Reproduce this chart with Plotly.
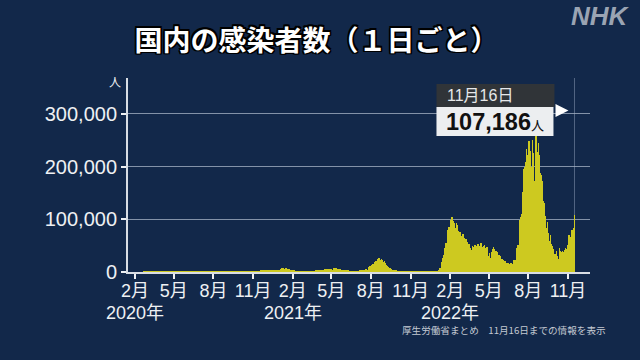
import pandas as pd
import plotly.graph_objects as go

# Daily new cases (persons); 2020-01-16 .. 2022-11-16
cases_2020 = [
    1, 0, 0, 0,
    0, 0, 0, 0, 1, 1, 0,
    1, 2, 3, 2, 2, 1, 0,
    0, 0, 3, 0, 0, 0, 0,
    0, 0, 1, 3, 8, 5, 5,
    6, 5, 3, 6, 10, 10, 12,
    13, 5, 7, 12, 14, 14, 13,
    15, 18, 21, 33, 24, 38, 30,
    26, 59, 52, 53, 62, 42, 33,
    15, 18, 42, 39, 37, 34, 40,
    38, 43, 69, 97, 96, 200, 170,
    90, 230, 250, 240, 320, 360, 360,
    250, 350, 500, 580, 650, 700, 500,
    350, 450, 550, 590, 580, 560, 400,
    350, 380, 380, 430, 450, 200, 200,
    120, 200, 200, 160, 250, 180, 200,
    90, 90, 120, 90, 80, 100, 50,
    60, 50, 50, 60, 40, 30, 20,
    20, 30, 30, 30, 30, 20, 20,
    20, 40, 30, 40, 60, 50, 50,
    30, 40, 50, 40, 40, 40, 50,
    20, 40, 40, 40, 60, 60, 50,
    70, 60, 40, 70, 60, 70, 40,
    40, 50, 60, 80, 110, 100, 110,
    90, 120, 130, 190, 250, 270, 230,
    200, 220, 260, 290, 420, 400, 410,
    250, 330, 460, 600, 590, 540, 510,
    380, 630, 800, 980, 770, 790, 920,
    620, 980, 1260, 1300, 1580, 1540, 1330,
    960, 1240, 1360, 1480, 1600, 1440, 1260,
    900, 800, 1000, 1200, 1370, 1100, 1000,
    600, 900, 1100, 1000, 1000, 900, 800,
    500, 600, 700, 800, 850, 700, 600,
    440, 540, 600, 600, 600, 600, 500,
    300, 400, 500, 600, 600, 500, 400,
    250, 400, 500, 600, 600, 500, 400,
    200, 300, 400, 500, 600, 600, 450,
    300, 500, 600, 600, 600, 500, 400,
    300, 500, 600, 600, 650, 500, 450,
    300, 450, 650, 700, 650, 600, 450,
    300, 500, 600, 650, 700, 550, 500,
    400, 550, 700, 750, 800, 650, 600,
    500, 600, 800, 1000, 1200, 1300, 1000,
    800, 1300, 1500, 1650, 1700, 1700, 1400,
    900, 1700, 2200, 2400, 2400, 2500, 2100,
    1500, 1200, 1900, 2500, 2500, 2700, 2000,
    1400, 2000, 2400, 2500, 2500, 2500, 2100,
    1400, 2200, 2800, 3000, 2800, 3000, 2400,
    1700, 2400, 3000, 3200, 3000, 3000, 2500,
    1800, 2600, 3300, 3700, 3300, 3000, 2900,
    2400, 3600, 3800, 4500,
]

cases_2021 = [
    3200, 3000, 3100,
    3300, 4900, 6000, 7500, 7900, 7000, 6100,
    4900, 4500, 5900, 6600, 6000, 6900, 5800,
    4000, 5300, 5600, 5500, 5000, 4800, 3900,
    2800, 3800, 3900, 4100, 3500, 3300, 2700,
    1800, 2300, 2600, 2600, 2300, 1900, 1600,
    1200, 1500, 1700, 1400, 1300, 1400, 1200,
    1000, 1300, 1500, 1300, 1400, 1200, 1000,
    700, 900, 1100, 1000, 1200, 1100, 900,
    700, 900, 1200, 1100, 1100, 1000, 1100,
    600, 1100, 1300, 1300, 1300, 1300, 1200,
    800, 1100, 1500, 1500, 1500, 1500, 1300,
    900, 1500, 1900, 1900, 2000, 2100, 1800,
    1200, 1800, 2400, 2500, 2800, 2800, 2500,
    1600, 2600, 3400, 3500, 3500, 3700, 3000,
    2100, 3400, 4300, 4500, 4600, 4800, 4100,
    3000, 4300, 5100, 5500, 5100, 5000, 4400,
    3300, 4400, 5800, 4700, 4200, 5000, 4100,
    3000, 4000, 4400, 6100, 7000, 7200, 6400,
    4800, 5400, 7000, 6900, 6800, 6400, 5200,
    3700, 5200, 5500, 5700, 5000, 4600, 3900,
    2800, 4000, 4400, 4000, 3700, 3600, 2800,
    1800, 2800, 3000, 2800, 2600, 2500, 2000,
    1300, 2100, 2100, 2000, 1900, 1900, 1400,
    900, 1400, 1700, 1700, 1700, 1600, 1400,
    900, 1400, 1700, 1800, 1700, 1600, 1300,
    1000, 1600, 1800, 1800, 1900, 1800, 1500,
    1100, 1800, 2200, 2300, 2400, 2400, 2000,
    1500, 2400, 3200, 3400, 3400, 3600, 3000,
    2300, 3800, 5000, 5400, 4200, 4200, 4700,
    4700, 7600, 9600, 10700, 10700, 12300, 10200,
    8300, 12000, 14200, 15200, 15800, 14500, 12100,
    9900, 11900, 18900, 20400, 20100, 19800, 17800,
    13900, 17700, 23900, 25100, 25900, 25400, 22200,
    16800, 21500, 24300, 24300, 22800, 22300, 19300,
    12900, 17700, 20000, 16800, 16300, 15700, 12800,
    7300, 10000, 11900, 10400, 9700, 8700, 7200,
    4200, 5800, 6800, 5600, 5100, 4500, 3400,
    2200, 2400, 3800, 3000, 2900, 2600, 2200,
    1100, 1600, 2100, 1700, 1600, 1400, 1200,
    600, 900, 1100, 900, 800, 700, 700,
    400, 600, 700, 600, 600, 500, 500,
    200, 400, 400, 400, 300, 300, 300,
    200, 300, 300, 300, 300, 300, 200,
    100, 200, 300, 200, 200, 200, 200,
    100, 200, 200, 200, 200, 200, 100,
    80, 130, 180, 150, 170, 140, 120,
    50, 100, 120, 110, 120, 110, 90,
    60, 100, 130, 120, 110, 130, 100,
    70, 120, 160, 140, 130, 140, 110,
    80, 140, 180, 150, 170, 160, 130,
    100, 180, 250, 260, 290, 270, 230,
    200, 380, 500, 500, 550,
]

cases_2022 = [
    530, 780,
    780, 1300, 2600, 4500, 6200, 8400, 8300,
    6400, 6000, 13200, 18800, 22000, 25700, 25600,
    20400, 32000, 41500, 46200, 49800, 54500, 52900,
    43200, 52000, 71600, 78900, 81800, 84900, 78500,
    59800, 83800, 94900, 97800, 101000, 104000, 94500,
    72800, 83000, 96700, 92100, 89000, 84000, 78000,
    51000, 70000, 93000, 89000, 84000, 78000, 66000,
    48000, 50000, 58000, 75000, 70000, 69000, 62000,
    42000, 65000, 69000, 73000, 68000, 64000, 56000,
    33000, 55000, 61000, 63000, 60000, 56000, 51000,
    28000, 46000, 53000, 53000, 51000, 46000, 41000,
    25000, 20000, 41000, 49000, 49000, 48000, 43000,
    24000, 44000, 51000, 51000, 49000, 49000, 43000,
    25000, 46000, 53000, 52000, 51000, 49000, 43000,
    29000, 48000, 55000, 55000, 50000, 47000, 40000,
    26000, 48000, 50000, 51000, 49000, 45000, 37000,
    23000, 41000, 47000, 45000, 33000, 26000, 31000,
    28000, 36000, 24000, 21000, 26000, 38000, 34000,
    22000, 44000, 43000, 48000, 44000, 40000, 33000,
    17000, 35000, 39000, 38000, 37000, 33000, 28000,
    15000, 30000, 32000, 31000, 30000, 27000, 22000,
    13000, 25000, 23000, 25000, 22000, 20000, 16000,
    9000, 18000, 20000, 19000, 17000, 16000, 13000,
    7000, 15000, 17000, 16000, 15000, 15000, 12000,
    7000, 15000, 17000, 17000, 16000, 15000, 13000,
    8000, 19000, 22000, 23000, 23000, 23000, 20000,
    12000, 31000, 45000, 47000, 51000, 51000, 47000,
    31000, 38000, 98000, 95000, 104000, 110000, 107000,
    70000, 73000, 152000, 186000, 195000, 200000, 169000,
    97000, 176000, 209000, 233000, 221000, 200000, 179000,
    106000, 198000, 249000, 239000, 230000, 222000, 199000,
    123000, 140000, 200000, 250000, 226000, 190000, 173000,
    92000, 114000, 206000, 255000, 261000, 253000, 227000,
    130000, 184000, 245000, 238000, 222000, 200000, 187000,
    96000, 169000, 184000, 182000, 173000, 165000, 135000,
    64000, 113000, 131000, 110000, 107000, 98000, 83000,
    41000, 81000, 94000, 85000, 74000, 69000, 59000,
    29000, 37000, 70000, 69000, 54000, 54000, 49000,
    20000, 41000, 44000, 39000, 35000, 33000, 29000,
    14000, 34000, 39000, 33000, 31000, 27000, 25000,
    11000, 13000, 45000, 39000, 35000, 30000, 28000,
    18000, 38000, 39000, 38000, 35000, 32000, 26000,
    17000, 42000, 46000, 43000, 41000, 38000, 32000,
    22000, 51000, 59000, 71000, 36000, 52000, 47000,
    31000, 67000, 79000, 79000, 74000, 68000, 61000,
    38000, 83000, 107186,
]

last_date = "2022-11-16"
x_range = ["2020-01-16", "2022-12-22"]
y_range = [0, 368000]

tick_dates = ["2020-02-01", "2020-05-01", "2020-08-01", "2020-11-01",
              "2021-02-01", "2021-05-01", "2021-08-01", "2021-11-01",
              "2022-02-01", "2022-05-01", "2022-08-01", "2022-11-01"]
tick_labels = ["2月", "5月", "8月", "11月"] * 3
year_dates = ["2020-02-01", "2021-02-01", "2022-02-01"]
year_labels = ["2020年", "2021年", "2022年"]
y_tick_vals = [0, 100000, 200000, 300000]
y_tick_labels = ["0", "100,000", "200,000", "300,000"]

title_text = "国内の感染者数（１日ごと）"
unit_text = "人"
source_text = "厚生労働省まとめ　{}までの情報を表示"

values = cases_2020 + cases_2021 + cases_2022
dates = pd.date_range(end=last_date, periods=len(values), freq="D")
last = pd.Timestamp(last_date)
date_label = f"{last.month}月{last.day}日"
value_label = f"{values[-1]:,}"

BG = "#12284a"
FONT = "Liberation Sans, Noto Sans CJK JP, sans-serif"
WHITE = "#eef0f3"

fig = go.Figure()
fig.add_trace(go.Bar(
    x=dates, y=values,
    marker=dict(color="#cdc920", line=dict(width=0)),
    hoverinfo="skip",
))

fig.update_layout(
    width=640, height=360, autosize=False,
    margin=dict(l=128, r=50, t=78, b=88),
    paper_bgcolor=BG, plot_bgcolor=BG,
    bargap=0, showlegend=False,
    font=dict(family=FONT, color=WHITE),
    title=dict(
        text=title_text, x=0.4945, y=0.886, xanchor="center", yanchor="middle",
        xref="container", yref="container",
        font=dict(family="Noto Sans CJK JP, sans-serif", size=28, color="white",
                  weight="bold",
                  shadow="1.5px 1.5px 0 #000, -1.5px -1.5px 0 #000, 1.5px -1.5px 0 #000, -1.5px 1.5px 0 #000, 0 1.5px 0 #000, 1.5px 0 0 #000, 0 -1.5px 0 #000, -1.5px 0 0 #000"),
    ),
    xaxis=dict(
        type="date", range=x_range,
        tickvals=tick_dates, ticktext=tick_labels, tickangle=0,
        ticks="outside", ticklen=5, tickwidth=1.5, tickcolor=WHITE,
        ticklabelstandoff=-4,
        showline=True, linecolor="#d8dde4", linewidth=2,
        showgrid=False, zeroline=False, automargin=False,
        tickfont=dict(size=18, color=WHITE, family=FONT),
        fixedrange=True,
    ),
    yaxis=dict(
        range=y_range,
        tickvals=y_tick_vals, ticktext=y_tick_labels,
        ticks="outside", ticklen=5, tickwidth=1.5, tickcolor=WHITE,
        showline=True, linecolor="#d8dde4", linewidth=2,
        showgrid=True, gridcolor="rgba(170,182,200,0.75)", gridwidth=1,
        zeroline=False, automargin=False,
        tickfont=dict(size=20, color=WHITE, family=FONT),
        fixedrange=True,
    ),
)

# year labels under the February ticks
for d, lab in zip(year_dates, year_labels):
    fig.add_annotation(x=d, xref="x", y=-0.2113, yref="paper",
                       xanchor="center", yanchor="middle", showarrow=False,
                       borderpad=0,
                       text=lab, font=dict(size=18, color=WHITE, family=FONT))

# marker line at last date and the callout
fig.add_shape(type="line", xref="x", yref="paper", x0=last, x1=last, y0=0, y1=1,
              line=dict(color="rgba(150,165,190,0.5)", width=1), layer="below")
fig.add_shape(type="rect", xref="x", yref="paper", xsizemode="pixel", xanchor=last,
              x0=-138, x1=-20, y0=0.8505, y1=0.969,
              fillcolor="#303438", line=dict(width=0))
fig.add_shape(type="rect", xref="x", yref="paper", xsizemode="pixel", xanchor=last,
              x0=-138, x1=-21, y0=0.701, y1=0.8505,
              fillcolor="#eceef0", line=dict(width=0))
fig.add_shape(type="path", xref="x", yref="paper", xsizemode="pixel", ysizemode="pixel",
              xanchor=last, yanchor=0.8325,
              path="M -19,6.5 L -19,-6.5 L -6,0 Z",
              fillcolor="white", line=dict(width=0))

fig.add_annotation(x=last, xref="x", y=0.9098, yref="paper", xshift=-129,
                   xanchor="left", yanchor="middle", showarrow=False,
                   text=date_label, font=dict(size=16, color="#e6e8ea", family=FONT))
fig.add_annotation(x=last, xref="x", y=0.774, yref="paper", xshift=-130,
                   xanchor="left", yanchor="middle", showarrow=False,
                   text=f"<b>{value_label}</b><span style='font-size:13px'>{unit_text}</span>",
                   font=dict(size=23.5, color="#111111", family=FONT))

fig.add_annotation(x=0, xref="paper", y=1, yref="paper", xshift=-13, yshift=-5,
                   xanchor="center", yanchor="middle", showarrow=False,
                   text=unit_text, font=dict(size=12, color=WHITE, family=FONT))
fig.add_annotation(x=1.0909, xref="paper", y=1.3196, yref="paper",
                   xanchor="right", yanchor="middle", showarrow=False,
                   text="<b><i>NHK</i></b>",
                   font=dict(size=26, color="#9aa4b3", family="Liberation Sans, sans-serif"))
fig.add_annotation(x=1.0368, xref="paper", y=-0.2990, yref="paper",
                   xanchor="right", yanchor="middle", showarrow=False,
                   borderpad=0,
                   text=source_text.format(date_label),
                   font=dict(size=9.6, color="#c3c9d2", family="Noto Sans CJK JP, sans-serif"))

fig.write_html(
    "out.html",
    config={"displayModeBar": False},
    post_script="document.body.style.margin='0';document.body.style.padding='0';",
)
